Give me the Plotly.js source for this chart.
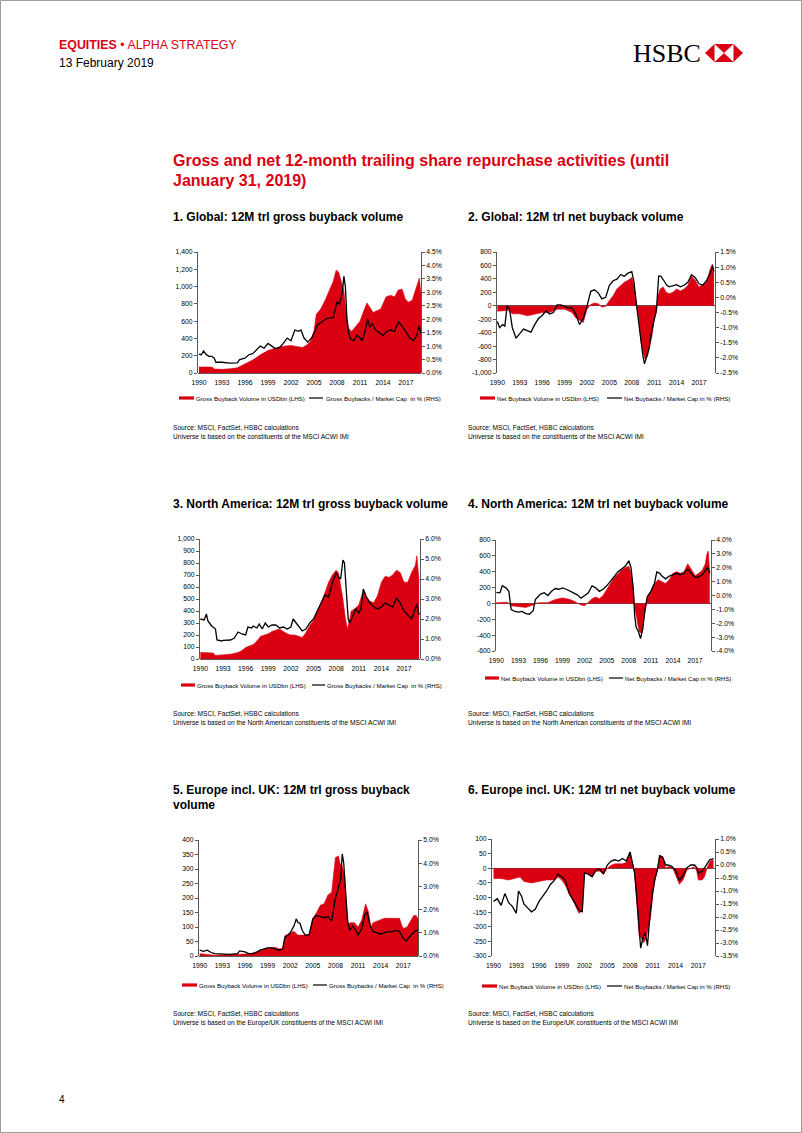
<!DOCTYPE html>
<html><head><meta charset="utf-8">
<script src="https://cdn.plot.ly/plotly-3.0.1.min.js"></script>
<style>html,body{margin:0;padding:0;background:#fff}#chart{width:802px;height:1133px}</style>
</head><body><div id="chart"></div>
<script>
// ---------------- DATA ----------------
const xTickVals = [1990, 1993, 1996, 1999, 2002, 2005, 2008, 2011, 2014, 2017];
const xTickText = ['1990','1993','1996','1999','2002','2005','2008','2011','2014','2017'];

// 1. Global gross
const c1AreaX = [1990,1991.7,1992,1993,1994,1995,1996,1997,1998,1999,2000,2001,2002,2003,2003.5,2004,2004.5,2005,2005.3,2005.7,2006,2006.5,2007,2007.5,2007.9,2008.2,2008.5,2008.9,2009.2,2009.5,2009.9,2010.5,2011,2011.5,2011.9,2012.3,2012.7,2013.2,2013.7,2014,2014.4,2015,2015.5,2016,2016.5,2016.9,2017.3,2017.8,2018.2,2018.5,2018.75,2018.9,2019];
const c1AreaV = [70,68,45,42,48,60,105,150,210,260,290,310,318,300,295,320,360,480,680,720,760,850,960,1060,1190,1170,1080,950,700,520,480,540,600,720,810,760,700,720,740,800,880,900,880,960,970,860,820,840,950,1050,1100,950,920];
const c1LineX = [1990,1990.3,1990.6,1990.9,1991.3,1991.7,1992,1992.2,1993,1994,1995,1995.3,1996,1996.5,1997,1997.5,1998,1998.5,1999,1999.5,2000,2000.5,2001,2001.5,2002,2002.5,2003,2003.3,2003.7,2004.2,2004.8,2005,2005.5,2006,2006.5,2007,2007.5,2008,2008.3,2008.7,2008.9,2009.1,2009.3,2009.5,2009.8,2010.2,2010.6,2011,2011.3,2011.7,2012,2012.3,2012.6,2013,2013.5,2014,2014.5,2015,2015.5,2016,2016.5,2017,2017.5,2018,2018.4,2018.7,2019];
const c1LineV = [0.70,0.68,0.82,0.70,0.62,0.62,0.55,0.40,0.40,0.37,0.38,0.50,0.55,0.68,0.72,0.85,1.00,0.92,1.10,1.00,0.90,0.95,1.10,1.30,1.20,1.60,1.55,1.60,1.30,1.15,1.35,1.50,1.80,1.90,2.00,2.05,2.05,2.65,2.55,3.00,3.60,3.20,2.00,1.50,1.25,1.20,1.40,1.30,1.20,1.60,2.00,1.70,1.85,1.60,1.50,1.40,1.55,1.60,1.55,1.90,1.75,1.50,1.30,1.20,1.40,1.75,1.45];
const c1LeftTicks = [0,200,400,600,800,1000,1200,1400];
const c1RightTicks = [0,0.5,1,1.5,2,2.5,3,3.5,4,4.5];

// 2. Global net
const c2AreaX = [1990,1991,1991.5,1992,1993,1994,1995,1996,1997,1998,1999,2000,2000.5,2001,2001.5,2002,2002.5,2003,2003.5,2004,2004.5,2005,2005.5,2006,2006.5,2007,2007.5,2008,2008.3,2008.6,2008.9,2009.2,2009.5,2009.8,2010.1,2010.4,2010.7,2011,2011.3,2011.5,2011.8,2012.2,2012.6,2013,2013.5,2014,2014.5,2015,2015.5,2016,2016.5,2017,2017.5,2018,2018.5,2018.8,2019];
const c2AreaV = [-80,-80,-70,-120,-120,-150,-130,-100,-100,-50,-50,-100,-180,-220,-250,-50,20,40,30,-20,-10,80,150,250,300,350,380,420,300,100,-150,-500,-700,-800,-750,-600,-450,-200,-100,150,250,280,200,180,200,250,220,250,300,440,380,280,320,350,550,620,480];
const c2LineX = [1990,1990.3,1990.7,1991,1991.3,1991.6,1992,1992.5,1993,1993.5,1994,1994.5,1995,1995.5,1996,1996.5,1997,1997.5,1998,1998.5,1999,1999.5,2000,2000.5,2001,2001.5,2002,2002.5,2003,2003.5,2004,2004.5,2005,2005.5,2006,2006.5,2007,2007.5,2008,2008.3,2008.6,2008.9,2009.2,2009.5,2009.7,2010,2010.3,2010.6,2011,2011.3,2011.6,2011.9,2012.3,2012.7,2013,2013.5,2014,2014.5,2015,2015.5,2016,2016.5,2017,2017.5,2018,2018.5,2018.8,2019];
const c2LineV = [-0.80,-1.00,-0.90,-0.95,-0.30,-0.35,-1.00,-1.35,-1.20,-1.05,-1.10,-1.15,-0.90,-0.70,-0.60,-0.45,-0.55,-0.50,-0.25,-0.25,-0.30,-0.35,-0.35,-0.55,-0.90,-0.70,-0.30,0.20,0.25,0.15,-0.05,0.00,0.40,0.55,0.60,0.75,0.70,0.80,0.85,0.50,-0.20,-0.80,-1.50,-1.95,-2.20,-1.90,-1.70,-1.20,-0.70,-0.40,0.70,0.70,0.55,0.40,0.35,0.38,0.42,0.35,0.40,0.50,0.75,0.65,0.45,0.40,0.55,0.80,1.05,0.85];
const c2LeftTicks = [-1000,-800,-600,-400,-200,0,200,400,600,800];
const c2RightTicks = [-2.5,-2,-1.5,-1,-0.5,0,0.5,1,1.5];

// 3. North America gross
const c3AreaX = [1990,1991,1991.7,1992,1993,1994,1995,1995.5,1996,1997,1997.5,1998,1999,1999.5,2000,2000.5,2001,2001.5,2002,2002.5,2003,2003.5,2004,2004.5,2005,2005.5,2006,2006.5,2007,2007.5,2008,2008.3,2008.6,2008.9,2009.2,2009.5,2009.8,2010,2010.5,2011,2011.5,2011.8,2012,2012.5,2013,2013.5,2014,2014.5,2015,2015.5,2016,2016.5,2017,2017.5,2018,2018.5,2018.7,2019];
const c3AreaV = [55,55,50,30,35,40,55,70,95,120,150,190,210,230,240,250,230,210,200,200,190,180,220,280,320,400,460,560,640,700,740,720,620,500,350,250,330,400,420,450,550,560,520,480,470,530,640,690,680,700,740,720,640,640,720,780,860,650];
const c3LineX = [1990,1990.5,1990.8,1991,1991.5,1992,1992.2,1992.8,1993,1993.5,1994,1994.5,1995,1995.5,1996,1996.3,1996.8,1997,1997.5,1997.8,1998.2,1998.6,1999,1999.5,2000,2000.5,2001,2001.5,2002,2002.3,2002.6,2003,2003.5,2004,2004.5,2005,2005.5,2006,2006.5,2007,2007.5,2008,2008.3,2008.6,2008.9,2009.1,2009.4,2009.6,2009.8,2010.2,2010.6,2011,2011.3,2011.6,2012,2012.5,2013,2013.5,2014,2014.5,2015,2015.5,2016,2016.5,2017,2017.5,2018,2018.3,2018.7,2019];
const c3LineV = [2.00,1.95,2.25,1.90,1.65,1.50,0.95,0.90,0.93,0.95,0.95,1.05,1.35,1.25,1.20,1.60,1.55,1.65,1.55,1.75,1.50,1.80,1.60,1.70,1.70,1.55,1.60,1.50,1.60,2.00,1.85,1.60,1.40,1.50,1.80,2.00,2.40,2.80,3.20,3.10,3.80,4.30,4.10,4.00,4.95,4.80,3.00,2.00,1.80,2.20,2.50,2.30,2.50,3.50,3.10,2.80,2.60,2.50,2.60,2.80,2.70,2.60,3.05,2.80,2.40,2.20,2.00,2.30,2.75,2.20];
const c3LeftTicks = [0,100,200,300,400,500,600,700,800,900,1000];
const c3RightTicks = [0,1,2,3,4,5,6];

// 4. North America net
const c4AreaX = [1990,1991.5,1992,1993,1994,1995,1995.5,1996,1997,1997.5,1998,1999,1999.5,2000,2000.5,2001,2001.5,2002,2002.5,2003,2003.5,2004,2004.5,2005,2005.5,2006,2006.5,2007,2007.5,2008,2008.3,2008.6,2008.8,2009.1,2009.4,2009.7,2010,2010.3,2010.6,2011,2011.5,2012,2012.5,2013,2013.5,2014,2014.5,2015,2015.5,2016,2016.5,2017,2017.5,2018,2018.4,2018.6,2018.8,2019];
const c4AreaV = [10,15,-30,-40,-50,-20,5,10,10,30,50,70,60,50,30,0,-20,-30,20,60,80,60,100,180,250,320,370,420,450,470,380,200,-50,-200,-350,-380,-200,-50,100,150,250,300,280,250,300,380,400,380,400,500,430,350,380,420,500,620,660,380];
const c4LineX = [1990,1990.5,1990.8,1991.3,1991.7,1992,1992.5,1993,1993.5,1994,1994.5,1995,1995.3,1996,1996.5,1997,1997.5,1998,1998.5,1999,1999.5,2000,2000.5,2001,2001.5,2002,2002.5,2003,2003.5,2004,2004.5,2005,2005.5,2006,2006.5,2007,2007.5,2008,2008.3,2008.6,2008.8,2009,2009.3,2009.6,2009.9,2010.2,2010.5,2011,2011.5,2011.8,2012.2,2012.5,2013,2013.5,2014,2014.5,2015,2015.5,2016,2016.5,2017,2017.5,2018,2018.4,2018.7,2019];
const c4LineV = [0.20,0.20,0.70,0.55,0.30,-1.00,-1.15,-1.20,-1.15,-1.30,-1.35,-1.10,-0.30,0.10,0.20,0.00,0.30,0.50,0.45,0.55,0.45,0.30,0.20,0.05,-0.20,0.00,0.20,0.70,0.55,0.30,0.45,0.70,1.00,1.35,1.70,1.90,2.10,2.50,2.00,0.50,-1.50,-2.30,-2.60,-3.10,-2.40,-1.00,-0.10,0.30,0.90,1.70,1.60,1.40,1.20,1.40,1.50,1.60,1.50,1.60,1.90,1.60,1.30,1.35,1.50,1.80,2.05,1.60];
const c4LeftTicks = [-600,-400,-200,0,200,400,600,800];
const c4RightTicks = [-4,-3,-2,-1,0,1,2,3,4];

// 5. Europe gross
const c5AreaX = [1990,1991,1992,1993,1994,1995,1996,1997,1998,1999,2000,2000.5,2001,2001.3,2001.7,2002,2002.5,2003,2003.5,2004,2004.5,2005,2005.5,2006,2006.5,2007,2007.5,2008,2008.4,2008.6,2008.9,2009.2,2009.4,2009.7,2010,2010.5,2011,2011.5,2012,2012.4,2012.7,2013,2013.5,2014,2014.5,2015,2015.5,2016,2016.5,2016.8,2017,2017.5,2018,2018.4,2018.7,2019];
const c5AreaV = [8,5,3,4,5,5,7,10,18,28,30,25,25,70,75,80,85,72,72,72,75,130,150,175,180,210,220,340,345,320,310,280,200,110,115,115,100,125,180,150,100,115,120,125,130,130,130,130,130,105,95,100,125,140,140,125];
const c5LineX = [1990,1990.5,1991,1991.5,1992,1993,1994,1995,1995.3,1996,1996.5,1997,1997.5,1998,1998.5,1999,1999.5,2000,2000.5,2001,2001.3,2001.7,2002,2002.5,2002.8,2003,2003.3,2003.6,2004,2004.5,2005,2005.5,2006,2006.5,2007,2007.5,2008,2008.4,2008.7,2008.9,2009.1,2009.3,2009.6,2009.9,2010.3,2010.7,2011,2011.5,2011.9,2012.2,2012.6,2013,2013.5,2014,2014.5,2015,2015.5,2016,2016.5,2016.8,2017,2017.4,2017.8,2018.3,2018.7,2019];
const c5LineV = [0.25,0.20,0.25,0.15,0.10,0.08,0.07,0.10,0.22,0.18,0.10,0.10,0.15,0.25,0.30,0.35,0.35,0.30,0.25,0.30,0.80,0.90,1.00,1.30,1.60,1.45,1.40,1.10,0.90,0.90,1.60,1.75,1.70,1.65,1.70,1.50,2.50,3.00,3.30,4.40,4.00,3.00,1.50,1.10,1.30,1.10,0.90,1.20,1.80,1.90,1.30,1.05,1.00,0.95,1.00,1.05,1.05,1.10,1.05,0.90,0.75,0.65,0.80,1.00,1.10,1.10];
const c5LeftTicks = [0,50,100,150,200,250,300,350,400];
const c5RightTicks = [0,1,2,3,4,5];

// 6. Europe net
const c6AreaX = [1990,1991,1992,1993,1993.5,1994,1995,1996,1997,1998,1998.5,1999,1999.5,2000,2000.5,2001,2001.3,2001.7,2002,2002.5,2003,2003.5,2004,2004.5,2005,2005.5,2006,2006.5,2007,2007.5,2008,2008.3,2008.6,2008.9,2009.2,2009.5,2009.8,2010.1,2010.4,2010.7,2011,2011.3,2011.6,2011.9,2012.3,2012.7,2013,2013.5,2013.8,2014.2,2014.5,2015,2015.5,2016,2016.5,2016.8,2017,2017.5,2017.8,2018.2,2018.6,2019];
const c6AreaV = [-35,-35,-40,-35,-30,-45,-50,-45,-40,-40,-30,-40,-60,-90,-110,-140,-155,-140,-15,-20,-30,-10,-10,-20,0,10,15,15,15,20,55,20,-20,-120,-230,-240,-255,-240,-200,-170,-90,-40,-10,45,40,0,5,5,-10,-40,-55,-40,-5,0,5,-10,-40,-40,-30,5,25,30];
const c6LineX = [1990,1990.5,1991,1991.5,1992,1992.5,1993,1993.3,1993.7,1994,1994.5,1995,1995.5,1996,1996.5,1997,1997.5,1998,1998.5,1999,1999.5,2000,2000.5,2001,2001.3,2001.7,2002,2002.5,2003,2003.5,2004,2004.5,2005,2005.5,2006,2006.5,2007,2007.5,2008,2008.3,2008.6,2008.9,2009.2,2009.4,2009.7,2010,2010.3,2010.6,2011,2011.3,2011.6,2011.9,2012.3,2012.7,2013,2013.5,2014,2014.5,2015,2015.5,2016,2016.5,2016.8,2017,2017.5,2018,2018.5,2019];
const c6LineV = [-1.40,-1.30,-1.55,-1.10,-1.45,-1.60,-1.85,-1.00,-1.20,-1.50,-1.65,-1.80,-1.70,-1.40,-1.20,-1.00,-0.75,-0.60,-0.35,-0.45,-0.60,-1.10,-1.35,-1.60,-1.75,-1.80,-0.30,-0.35,-0.45,-0.20,-0.15,-0.35,0.00,0.15,0.20,0.15,0.25,0.15,0.50,0.10,-0.30,-1.30,-2.50,-3.20,-2.80,-2.60,-3.10,-2.00,-1.00,-0.50,-0.20,0.35,0.30,0.00,0.00,-0.05,-0.20,-0.60,-0.40,-0.10,0.00,0.00,-0.10,-0.30,-0.25,0.00,0.20,0.25];
const c6LeftTicks = [-300,-250,-200,-150,-100,-50,0,50,100];
const c6RightTicks = [-3.5,-3,-2.5,-2,-1.5,-1,-0.5,0,0.5,1];

// texts
const chartTitles = [
  ['1. Global: 12M trl gross buyback volume'],
  ['2. Global: 12M trl net buyback volume'],
  ['3. North America: 12M trl gross buyback volume'],
  ['4. North America: 12M trl net buyback volume'],
  ['5. Europe incl. UK: 12M trl gross buyback', 'volume'],
  ['6. Europe incl. UK: 12M trl net buyback volume']
];
const grossLegend = ['Gross Buyback Volume in USDbn (LHS)', 'Gross Buybacks / Market Cap \u00A0in % (RHS)'];
const netLegend = ['Net Buyback Volume in USDbn (LHS)', 'Net Buybacks / Market Cap in % (RHS)'];
const sourceLine = 'Source: MSCI, FactSet, HSBC calculations';
const universeLines = [
  'Universe is based on the constituents of the MSCI ACWI IMI',
  'Universe is based on the constituents of the MSCI ACWI IMI',
  'Universe is based on the North American constituents of the MSCI ACWI IMI',
  'Universe is based on the North American constituents of the MSCI ACWI IMI',
  'Universe is based on the Europe/UK constituents of the MSCI ACWI IMI',
  'Universe is based on the Europe/UK constituents of the MSCI ACWI IMI'
];

// ---------------- LAYOUT ----------------
const W = 802, H = 1133;
const RED = '#DB0011';
const FONT = '"Liberation Sans", Arial, sans-serif';
const AXC = '#595959';
const px = x => x / W, py = y => 1 - y / H;
const fmtNum = v => v.toLocaleString('en-US');
const fmtPct = v => v.toFixed(1) + '%';

const charts = [
  {area:[c1AreaX,c1AreaV], line:[c1LineX,c1LineV], bx:[198,421], by:[252,373], xr:[1989.87,2018.96], yl:[0,1400], yr:[0,4.5], lt:c1LeftTicks, rt:c1RightTicks,
   title:[172,217], leg:{y:398, r:[179,194], t1:195, l:[309,323], t2:325}, src:[172,427], gross:true},
  {area:[c2AreaX,c2AreaV], line:[c2LineX,c2LineV], bx:[497,715], by:[252,373], xr:[1989.95,2019.14], yl:[-1000,800], yr:[-2.5,1.5], lt:c2LeftTicks, rt:c2RightTicks,
   title:[467,217], leg:{y:398, r:[480,495], t1:496, l:[607,622], t2:623}, src:[467,427], gross:false},
  {area:[c3AreaX,c3AreaV], line:[c3LineX,c3LineV], bx:[200,420], by:[539,659], xr:[1989.95,2019.12], yl:[0,1000], yr:[0,6], lt:c3LeftTicks, rt:c3RightTicks,
   title:[172,504], leg:{y:685, r:[181,195], t1:196, l:[312,325], t2:326}, src:[172,713], gross:true},
  {area:[c4AreaX,c4AreaV], line:[c4LineX,c4LineV], bx:[496,711], by:[540,651], xr:[1989.95,2019.17], yl:[-600,800], yr:[-4,4], lt:c4LeftTicks, rt:c4RightTicks,
   title:[467,504], leg:{y:678, r:[485,499], t1:500, l:[609,623], t2:624}, src:[467,713], gross:false},
  {area:[c5AreaX,c5AreaV], line:[c5LineX,c5LineV], bx:[199,418], by:[840,956], xr:[1989.9,2018.95], yl:[0,400], yr:[0,5], lt:c5LeftTicks, rt:c5RightTicks,
   title:[172,790], leg:{y:985, r:[182,197], t1:198, l:[313,327], t2:328}, src:[172,1013], gross:true},
  {area:[c6AreaX,c6AreaV], line:[c6LineX,c6LineV], bx:[492,715], by:[839,956], xr:[1989.8,2019.2], yl:[-300,100], yr:[-3.5,1], lt:c6LeftTicks, rt:c6RightTicks,
   title:[467,790], leg:{y:986, r:[482,497], t1:498, l:[607,622], t2:623}, src:[467,1013], gross:false}
];

const data = [];
const layout = {
  width: W, height: H, margin: {l:0, r:0, t:0, b:0}, autosize: false,
  paper_bgcolor: '#fff', plot_bgcolor: 'rgba(0,0,0,0)', showlegend: false,
  font: {family: FONT, color: '#000', size: 7},
  annotations: [], shapes: []
};

function txt(x, y, text, size, extra) {
  const o = {xref:'paper', yref:'paper', x:px(x), y:py(y), xanchor:'left', yanchor:'middle',
    text:text, showarrow:false, borderpad:0, font:{family:FONT, size:size, color:'#000'}};
  if (extra) { if (extra.color) o.font.color = extra.color; if (extra.family) o.font.family = extra.family; }
  return o;
}
function rect(x0, y0, x1, y1, fill) {
  return {type:'rect', xref:'paper', yref:'paper', x0:px(x0), x1:px(x1), y0:py(y0), y1:py(y1), fillcolor:fill, line:{width:0}};
}
function seg(x0, y0, x1, y1, color, w) {
  return {type:'line', xref:'paper', yref:'paper', x0:px(x0), x1:px(x1), y0:py(y0), y1:py(y1), line:{color:color, width:w}};
}
function poly(pts, fill) {
  const d = pts.map((p, i) => (i ? 'L' : 'M') + px(p[0]) + ',' + py(p[1])).join(' ') + ' Z';
  return {type:'path', xref:'paper', yref:'paper', path:d, fillcolor:fill, line:{width:0}};
}

const tickFont = {family: FONT, size: 6.8, color: '#000'};

charts.forEach((c, k) => {
  const i = k + 1;
  const xn = i === 1 ? '' : String(i);
  const yl = 2 * i - 1, yr = 2 * i;
  const yln = yl === 1 ? '' : String(yl);
  const yrn = String(yr);
  data.push({type:'scatter', mode:'lines', x:c.area[0], y:c.area[1], xaxis:'x'+xn, yaxis:'y'+yln,
    fill:'tozeroy', fillcolor:RED, line:{color:RED, width:0.6}, hoverinfo:'skip'});
  data.push({type:'scatter', mode:'lines', x:c.line[0], y:c.line[1], xaxis:'x'+xn, yaxis:'y'+yrn,
    line:{color:'#000', width:1.3}, hoverinfo:'skip'});
  layout['xaxis'+xn] = {domain:[px(c.bx[0]), px(c.bx[1])], range:c.xr, anchor:'y'+yln,
    tickmode:'array', tickvals:xTickVals, ticktext:xTickText, tickfont:tickFont,
    showgrid:false, zeroline:false, showline:false, ticks:'outside', ticklen:3, tickcolor:'rgba(0,0,0,0)', fixedrange:true};
  layout['yaxis'+yln] = {domain:[py(c.by[1]), py(c.by[0])], range:c.yl, anchor:'x'+xn, side:'left',
    tickmode:'array', tickvals:c.lt, ticktext:c.lt.map(fmtNum), tickfont:tickFont,
    showgrid:false, showline:true, linecolor:AXC, linewidth:1, ticks:'outside', ticklen:3, tickcolor:AXC,
    zeroline:true, zerolinecolor:AXC, zerolinewidth:1, fixedrange:true};
  layout['yaxis'+yrn] = {overlaying:'y'+yln, range:c.yr, anchor:'x'+xn, side:'right',
    tickmode:'array', tickvals:c.rt, ticktext:c.rt.map(fmtPct), tickfont:tickFont,
    showgrid:false, showline:true, linecolor:AXC, linewidth:1, ticks:'outside', ticklen:3, tickcolor:AXC,
    zeroline:false, fixedrange:true};

  chartTitles[k].forEach((t, j) => layout.annotations.push(txt(c.title[0], c.title[1] + j * 15, '<b>' + t + '</b>', 12)));
  const lg = c.leg, labels = c.gross ? grossLegend : netLegend;
  layout.shapes.push(rect(lg.r[0], lg.y - 1.6, lg.r[1], lg.y + 1.6, RED));
  layout.shapes.push(seg(lg.l[0], lg.y, lg.l[1], lg.y, '#000', 1.2));
  layout.annotations.push(txt(lg.t1, lg.y, labels[0], 6.1));
  layout.annotations.push(txt(lg.t2, lg.y, labels[1], 6.1));
  layout.annotations.push(txt(c.src[0], c.src[1], sourceLine, 6.6));
  layout.annotations.push(txt(c.src[0], c.src[1] + 9.5, universeLines[k], 6.6));
});

// header
layout.annotations.push(txt(58, 45, '<b>EQUITIES</b> \u2022 ALPHA STRATEGY', 12.4, {color:RED}));
layout.annotations.push(txt(58, 63, '13 February 2019', 12));
layout.annotations.push(txt(632, 53, 'HSBC', 26, {family:'"Liberation Serif", "Times New Roman", serif'}));
layout.annotations.push(txt(172, 160, '<b>Gross and net 12-month trailing share repurchase activities (until</b>', 16, {color:RED}));
layout.annotations.push(txt(172, 180, '<b>January 31, 2019)</b>', 16, {color:RED}));
layout.annotations.push(txt(58, 1099, '4', 10));

// HSBC hexagon
const hx0 = 705, hx1 = 743, hy0 = 44, hy1 = 62;
const hw = hx1 - hx0, hcx = (hx0 + hx1) / 2, hcy = (hy0 + hy1) / 2;
const qL = hx0 + hw * 0.25, qR = hx0 + hw * 0.75;
layout.shapes.push(poly([[hx0,hcy],[qL,hy0],[qL,hy1]], RED));
layout.shapes.push(poly([[hx1,hcy],[qR,hy0],[qR,hy1]], RED));
layout.shapes.push(poly([[qL,hy0],[qR,hy0],[hcx,hcy]], RED));
layout.shapes.push(poly([[qL,hy1],[qR,hy1],[hcx,hcy]], RED));

// page border
layout.shapes.push({type:'rect', xref:'paper', yref:'paper', x0:0.0006, x1:0.9994, y0:0.0004, y1:0.9996, line:{color:'#9a9a9a', width:1}, fillcolor:'rgba(0,0,0,0)'});

Plotly.newPlot('chart', data, layout, {staticPlot:true, displayModeBar:false});
</script>
</body></html>
